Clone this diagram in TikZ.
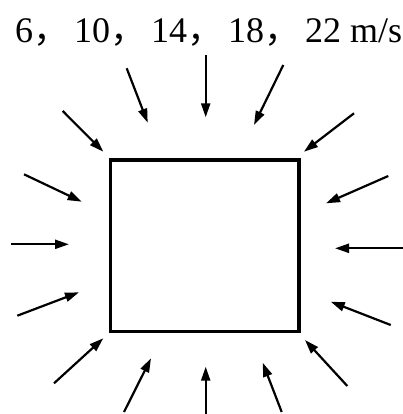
\documentclass[tikz,border=0pt]{standalone}
\usepackage{fontspec}
\setmainfont{Liberation Serif}
\newfontfamily\cjk{Noto Sans CJK SC}
\usetikzlibrary{arrows.meta}
\newcommand{\fwc}{{\cjk ，}\hspace{5pt}}
\begin{document}
\begin{tikzpicture}[x=1pt,y=-1pt,
  wind/.style={line width=2.2pt,-{Triangle[length=14pt,width=9pt]}},
  box/.style={draw,line width=3.5pt,inner sep=0pt}]
\useasboundingbox (0,0) rectangle (403,414);
\node[anchor=base west,inner sep=0pt,font=\fontsize{36}{36}\selectfont] (lbl) at (15,43)
  {6\fwc 10\fwc 14\fwc 18\fwc 22 m/s};
\draw[line width=3.5pt] (110.5,160) rectangle (299,331.5);
\coordinate (a1) at (126.7,68.3);  \coordinate (b1) at (147.7,122.7);
\coordinate (a2) at (205.7,55);    \coordinate (b2) at (205.7,117.3);
\coordinate (a3) at (283.3,65);    \coordinate (b3) at (254,125);
\coordinate (a4) at (62.7,111);    \coordinate (b4) at (103.3,151.7);
\coordinate (a5) at (354,113.3);   \coordinate (b5) at (304,151.7);
\coordinate (a6) at (24,174.3);    \coordinate (b6) at (81.7,201.7);
\coordinate (a7) at (11,244.3);    \coordinate (b7) at (69,244.3);
\coordinate (a8) at (388.3,176);   \coordinate (b8) at (326,203.3);
\coordinate (a9) at (403,248.3);   \coordinate (b9) at (335,248.3);
\coordinate (a10) at (17.3,315.7); \coordinate (b10) at (79,292.3);
\coordinate (a11) at (390.7,325);  \coordinate (b11) at (330.7,301.7);
\coordinate (a12) at (54,383.3);   \coordinate (b12) at (103.3,338.3);
\coordinate (a13) at (347.3,386);  \coordinate (b13) at (305,340);
\coordinate (a14) at (124,412);    \coordinate (b14) at (151,358.3);
\coordinate (a15) at (205.7,414);  \coordinate (b15) at (205.7,366.7);
\coordinate (a16) at (281.7,412);  \coordinate (b16) at (262.7,362.7);
\foreach \i in {1,...,16} \draw[wind] (a\i) -- (b\i);
\end{tikzpicture}
\end{document}
